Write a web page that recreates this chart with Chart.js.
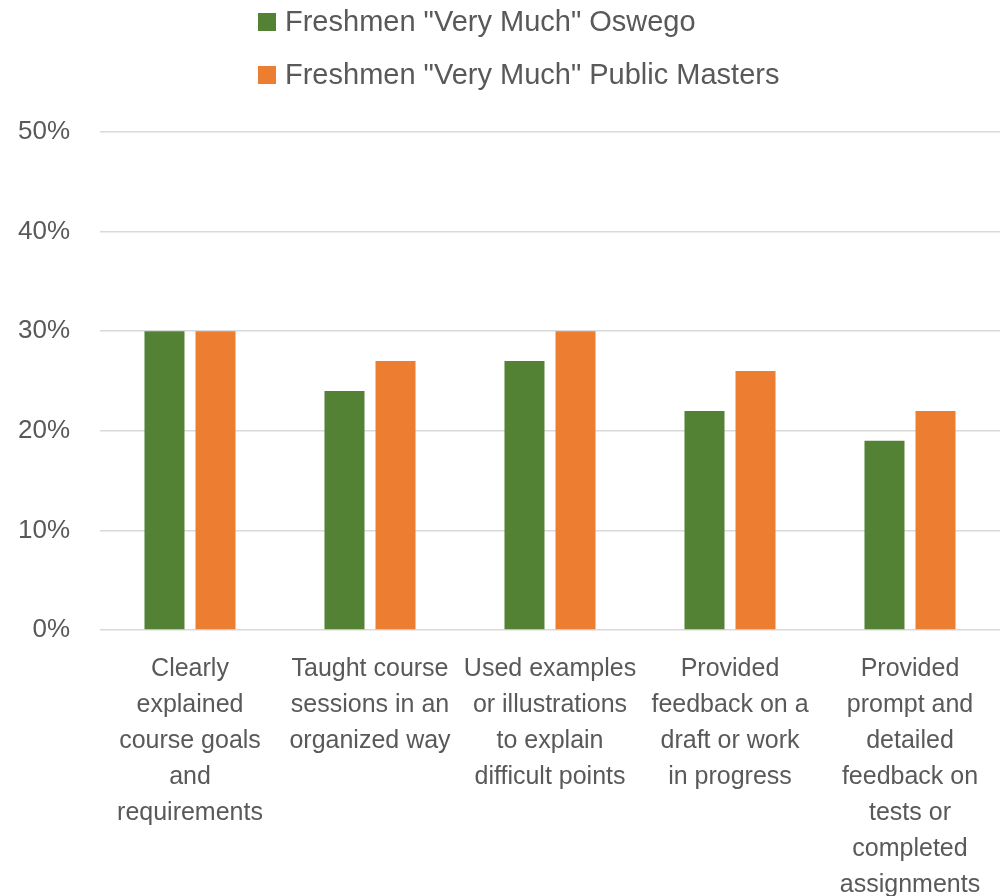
<!DOCTYPE html>
<html>
<head>
<meta charset="utf-8">
<script src="https://cdn.jsdelivr.net/npm/chart.js@4.4.1/dist/chart.umd.min.js"></script>
<style>
  html, body { margin: 0; padding: 0; background: #fff; }
  #wrap { width: 1000px; height: 896px; }
</style>
</head>
<body>
<div id="wrap"><canvas id="chart"></canvas></div>
<script>
let categories = [
    ["Clearly", "explained", "course goals", "and", "requirements"],
    ["Taught course", "sessions in an", "organized way"],
    ["Used examples", "or illustrations", "to explain", "difficult points"],
    ["Provided", "feedback on a", "draft or work", "in progress"],
    ["Provided", "prompt and", "detailed", "feedback on", "tests or", "completed", "assignments"]
];
let seriesNames = ['Freshmen "Very Much" Oswego', 'Freshmen "Very Much" Public Masters'];
let oswegoValues = [30, 24, 27, 22, 19];
let publicMastersValues = [30, 27, 30, 26, 22];
let yTicks = [0, 10, 20, 30, 40, 50];

const textColor = '#595959';
const fontFamily = '"Liberation Sans", Arial, sans-serif';

// legend drawn by hand so both items stack left-aligned like the original
const stackedLegend = {
    id: 'stackedLegend',
    afterDraw(chart) {
        let ctx = chart.ctx;
        ctx.save();
        ctx.font = '29px ' + fontFamily;
        ctx.textBaseline = 'middle';
        chart.data.datasets.forEach((ds, i) => {
            let y = 22 + i * 53;
            ctx.fillStyle = ds.backgroundColor;
            ctx.fillRect(258, y - 9, 18, 18);
            ctx.fillStyle = textColor;
            ctx.fillText(ds.label, 285, y + 1);
        });
        ctx.restore();
    }
};

new Chart(document.getElementById('chart').getContext('2d'), {
    type: 'bar',
    data: {
        labels: categories,
        datasets: [{
            label: seriesNames[0],
            data: oswegoValues,
            backgroundColor: '#548235'
        }, {
            label: seriesNames[1],
            data: publicMastersValues,
            backgroundColor: '#ED7D31'
        }]
    },
    options: {
        responsive: true,
        maintainAspectRatio: false,
        animation: false,
        categoryPercentage: 0.567,
        barPercentage: 0.784,
        layout: {
            padding: {top: 132, bottom: 0, left: 0, right: 0}
        },
        plugins: {
            legend: {display: false},
            tooltip: {enabled: false}
        },
        scales: {
            x: {
                grid: {display: false},
                border: {display: false},
                ticks: {
                    color: textColor,
                    font: {family: fontFamily, size: 25, lineHeight: 1.44},
                    maxRotation: 0,
                    autoSkip: false,
                    padding: 13
                },
                afterFit: scale => { scale.height = 266; }
            },
            y: {
                min: 0,
                max: 50,
                afterBuildTicks: scale => { scale.ticks = yTicks.map(v => ({value: v})); },
                grid: {color: '#d9d9d9', lineWidth: 1.5, drawTicks: false},
                border: {display: false},
                ticks: {
                    color: textColor,
                    font: {family: fontFamily, size: 26},
                    padding: 30,
                    callback: v => v + '%'
                },
                afterFit: scale => { scale.width = 100; }
            }
        }
    },
    plugins: [stackedLegend]
});
</script>
</body>
</html>
